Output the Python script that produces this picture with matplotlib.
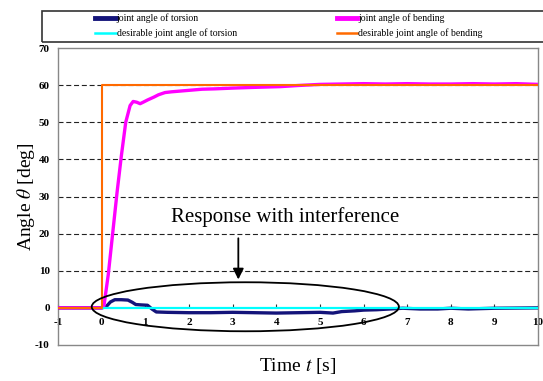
import matplotlib.pyplot as plt
from matplotlib.patches import Ellipse, Rectangle
from matplotlib.lines import Line2D
import numpy as np

plt.rcParams['font.family'] = 'Liberation Serif'
plt.rcParams['mathtext.fontset'] = 'stix'

# desired angles (step input)
t_des = [-1, 0, 0, 10]
bend_des = [0, 0, 60, 60]
t_tor_des = [0, 10]
tor_des = [0, 0]

# measured bending angle
t_bend = [-1, 0, 0.05, 0.15, 0.25, 0.35, 0.45, 0.55, 0.65, 0.72, 0.8, 0.88, 0.95,
          1.05, 1.2, 1.3, 1.45, 1.6, 1.8, 2.0, 2.3, 2.6, 3.0, 3.5, 4.1, 4.5, 5.0,
          5.5, 6.0, 6.5, 7.0, 7.5, 8.0, 8.5, 9.0, 9.5, 10]
bend = [0, 0, 0.5, 9, 20, 31, 41, 50, 54.5, 55.6, 55.4, 55.0, 55.4,
        56.0, 56.8, 57.4, 58.0, 58.2, 58.4, 58.6, 58.9, 59.0, 59.2, 59.4, 59.6, 59.9, 60.2,
        60.3, 60.4, 60.3, 60.4, 60.3, 60.3, 60.4, 60.3, 60.4, 60.2]

# measured torsion angle
t_tor = [-1, 0, 0.1, 0.2, 0.3, 0.45, 0.6, 0.7, 0.78, 0.9, 1.05, 1.15, 1.25, 1.5,
         2.0, 2.5, 3.0, 3.5, 4.0, 4.5, 5.0, 5.3, 5.5, 5.8, 6.0, 6.3, 6.6, 6.9,
         7.3, 7.7, 8.0, 8.4, 9.0, 10]
tor = [0, 0, 0.3, 1.6, 2.2, 2.2, 2.1, 1.5, 0.9, 0.8, 0.7, -0.3, -1.1, -1.2,
       -1.3, -1.3, -1.2, -1.3, -1.4, -1.3, -1.2, -1.4, -1.0, -0.8, -0.6, -0.5, -0.3, -0.1,
       -0.3, -0.3, -0.1, -0.3, -0.1, 0]

grid_levels = [10, 20, 30, 40, 50, 60]
x_ticks = list(range(-1, 11))
y_ticks = list(range(-10, 71, 10))

fig = plt.figure(figsize=(5.43, 3.81), dpi=100)
ax = fig.add_axes([0.107, 0.0945, 0.884, 0.7795])

ax.hlines(grid_levels, -1, 10, colors='#222222', linestyles=(0, (4.5, 2.5)), lw=0.8, zorder=1)

ax.plot(t_tor, tor, color='#14147a', lw=2.4, zorder=3)
ax.plot(t_tor_des, tor_des, color='#00ffff', lw=1.6, zorder=4)
ax.plot(t_bend, bend, color='#ff00ff', lw=2.4, zorder=3)
ax.plot(t_des, bend_des, color='#ff6a00', lw=1.5, zorder=5)

ax.set_xlim(-1, 10)
ax.set_ylim(-10, 70)
ax.set_yticks(y_ticks)
ax.set_yticklabels([str(v) for v in y_ticks], fontsize=8, fontweight='bold')
ax.tick_params(axis='y', length=0, pad=6)
ax.tick_params(axis='x', bottom=False, labelbottom=False)
for s in ax.spines.values():
    s.set_color('#888888')
    s.set_linewidth(1.0)

# x axis crossing at zero
sec = ax.secondary_xaxis(10 / 80)
sec.set_xticks(x_ticks)
sec.set_xticklabels([str(v) for v in x_ticks], fontsize=8, fontweight='bold')
sec.tick_params(direction='in', length=3, width=0.8, color='#333333', pad=7.5)
sec.spines['bottom'].set_visible(False)

ax.set_xlabel('Time $t$ [s]', fontsize=14, labelpad=8)
ax.set_ylabel(r'Angle $\theta$ [deg]', fontsize=14, labelpad=-1.5)

# annotation
ax.add_patch(Ellipse((3.29, 0.3), 7.04, 13.2, fill=False, ec='black', lw=1.3, zorder=6))
ax.annotate('', xy=(3.13, 6.9), xytext=(3.13, 19.5),
            arrowprops=dict(arrowstyle='-|>', color='black', lw=1.3, mutation_scale=16))
ax.text(4.2, 24.6, 'Response with interference', ha='center', va='center', fontsize=15)

# legend
fig.patches.append(Rectangle((0.077, 0.89), 0.95, 0.081, transform=fig.transFigure,
                             fill=False, ec='#333333', lw=1.2))
handles = [Line2D([], [], color='#14147a', lw=3.5),
           Line2D([], [], color='#00ffff', lw=1.8),
           Line2D([], [], color='#ff00ff', lw=3.5),
           Line2D([], [], color='#ff6a00', lw=1.8)]
labels = ['joint angle of torsion', 'desirable joint angle of torsion',
          'joint angle of bending', 'desirable joint angle of bending']
fig.legend(handles, labels, ncol=2, loc='upper left', bbox_to_anchor=(0.163, 0.983),
           frameon=False, fontsize=7, handlelength=2.1, handletextpad=0.1,
           columnspacing=10.3, labelspacing=0.55, borderpad=0.2)

plt.savefig('out.png', dpi=100)
